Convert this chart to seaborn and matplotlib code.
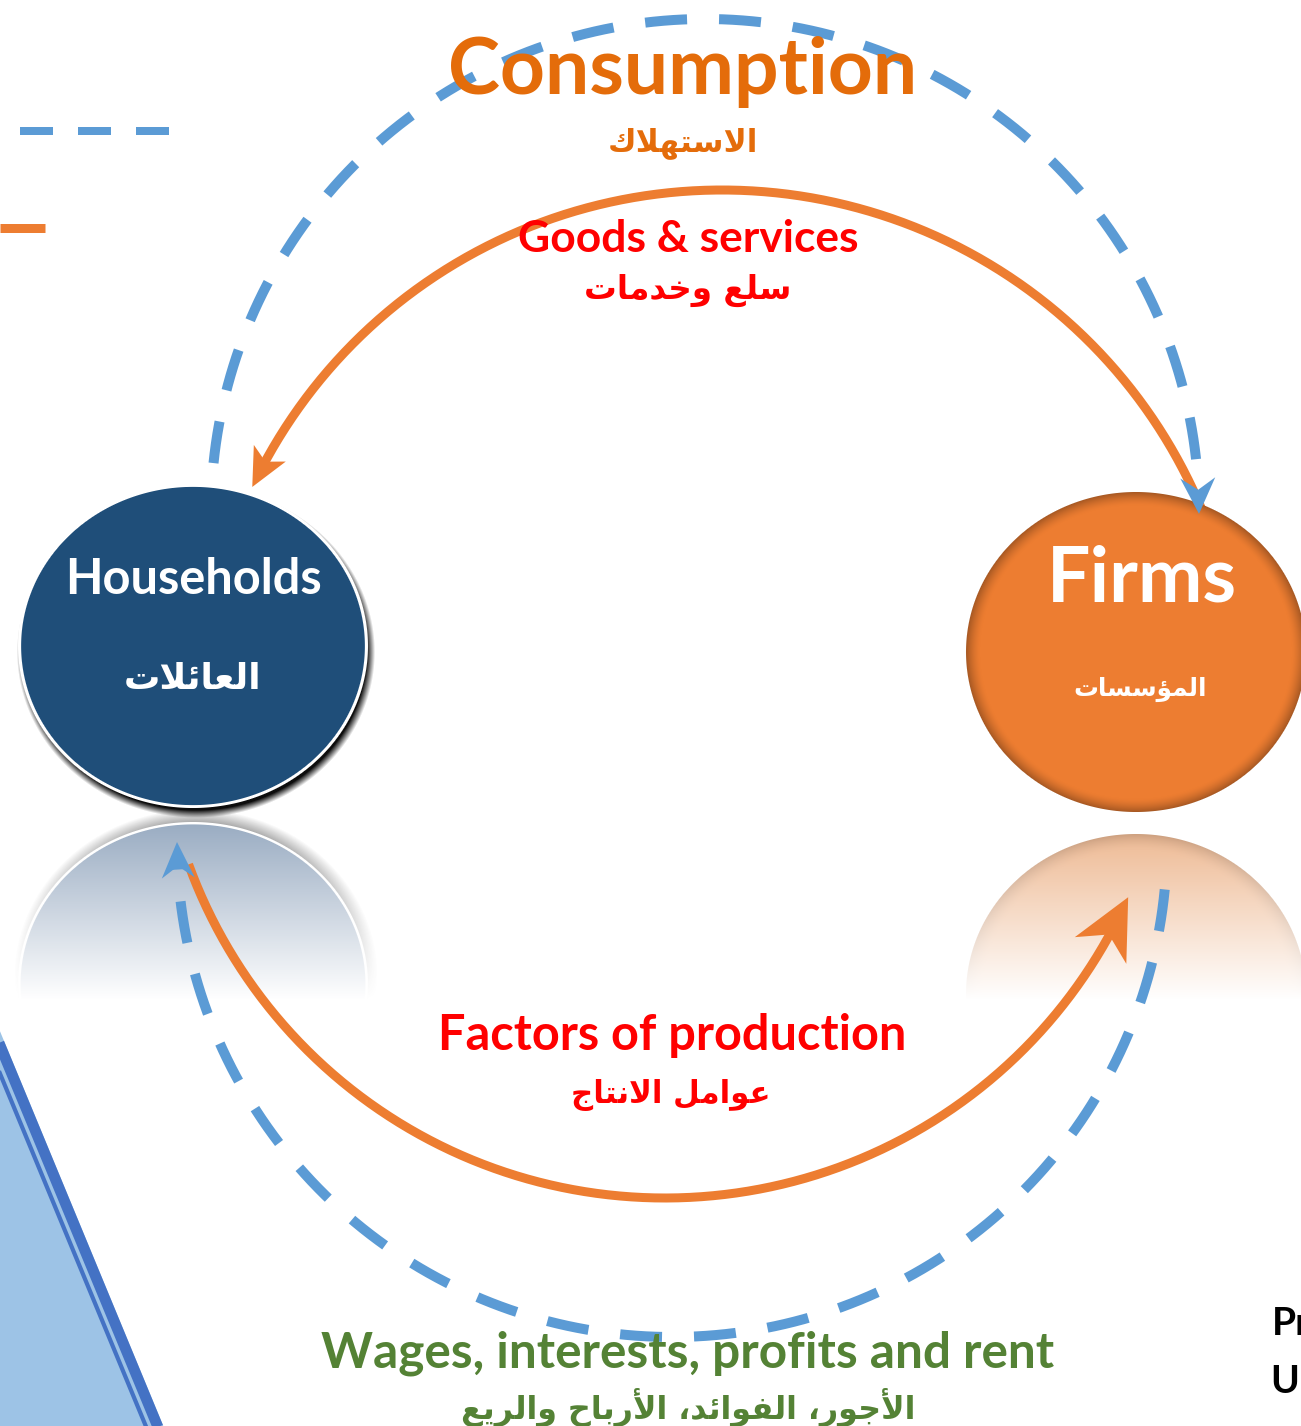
import numpy as np
import matplotlib
matplotlib.use('Agg')
import matplotlib.pyplot as plt
import seaborn as sns

# ---- texts ----
node_names = ['Households', 'Firms']
node_names_ar = ['العائلات', 'المؤسسات']
flow_names = ['Consumption', 'Goods & services', 'Factors of production',
              'Wages, interests, profits and rent']
flow_names_ar = ['الاستهلاك', 'سلع وخدمات', 'عوامل الانتاج',
                 'الأجور، الفوائد، الأرباح والريع']
corner_text = ['Pr', 'U']

# ---- layout (pixel units, y pointing down) ----
W, H = 1301, 1426
BLUE = '#5B9BD5'
ORANGE = '#ED7D31'
PX2PT = 72 / 100
AR_STRETCH = 1.15  # DejaVu arabic is wide and short, let it run a bit wider

node_x = [193, 1136]
node_y = [646, 652]
node_rx = [175, 170]
node_ry = [162, 160]
node_text_x = [193, 1142]
node_title_y = [594, 602]
node_title_w = [257, 190]
node_ar_x = [193, 1140]
node_ar_y = [689, 696]
node_ar_w = [120, 116]

flow_x = [683, 688, 672, 688]
flow_y = [94, 252, 1050, 1368]
flow_w = [470, 340, 468, 733]
flow_colors = ['#E46C0A', '#FF0000', '#FF0000', '#548235']
flow_ar_x = [683, 688, 671, 688]
flow_ar_y = [151, 299, 1103, 1419]
flow_ar_w = [130, 180, 173, 395]

# arcs: centre, radius, start/end angle (deg), colour, width px, dashed, head (length, width, notch)
arcs = [
    dict(c=(722, 710), r=520, t=(21, 154.6), color=ORANGE, w=9, dashed=False, head=(38, 36, 0.75)),
    dict(c=(665, 691), r=507, t=(-160, -24), color=ORANGE, w=9, dashed=False, head=(60, 58, 0.7)),
    dict(c=(705, 513), r=494, t=(174.2, -0.1), color=BLUE, w=10, dashed=True, head=(36, 35, 0.67)),
    dict(c=(672, 842), r=495, t=(-5.5, -180), color=BLUE, w=10, dashed=True, head=(36, 33, 0.67)),
]

# ---- arabic shaping (matplotlib has no text shaper) ----
AR_ISO = {'ا': 0xFE8D, 'أ': 0xFE83, 'ؤ': 0xFE85, 'ئ': 0xFE89, 'ب': 0xFE8F, 'ت': 0xFE95,
          'ج': 0xFE9D, 'ح': 0xFEA1, 'خ': 0xFEA5, 'د': 0xFEA9, 'ر': 0xFEAD, 'س': 0xFEB1,
          'ع': 0xFEC9, 'ف': 0xFED1, 'ك': 0xFED9, 'ل': 0xFEDD, 'م': 0xFEE1, 'ن': 0xFEE5,
          'ه': 0xFEE9, 'و': 0xFEED, 'ي': 0xFEF1}
AR_DUAL = set('ئبتجحخسعفكلمنهي')
LAM_ALEF = {'ا': 0xFEFB, 'أ': 0xFEF7}


def shape_arabic(s):
    tokens = []
    i = 0
    while i < len(s):
        if s[i] == 'ل' and i + 1 < len(s) and s[i + 1] in LAM_ALEF:
            tokens.append(('la', s[i + 1]))
            i += 2
        else:
            tokens.append(('ch', s[i]))
            i += 1
    out = []
    for k, (kind, c) in enumerate(tokens):
        prev = tokens[k - 1] if k > 0 else None
        nxt = tokens[k + 1] if k + 1 < len(tokens) else None
        jp = prev is not None and prev[0] == 'ch' and prev[1] in AR_DUAL
        if kind == 'la':
            out.append(chr(LAM_ALEF[c] + (1 if jp else 0)))
            continue
        if c not in AR_ISO:
            out.append(c)
            continue
        jn = c in AR_DUAL and nxt is not None and (nxt[0] == 'la' or nxt[1] in AR_ISO)
        form = {(False, False): 0, (True, False): 1, (False, True): 2, (True, True): 3}[(jp, jn)]
        out.append(chr(AR_ISO[c] + form))
    return ''.join(reversed(out))


# ---- soft ellipse bitmaps (circles, shadows, reflections) ----
def ellipse_img(cx, cy, rx, ry, box, fill, ring_w=0, shadow=None, fade=None,
                edge_dark=0.0, edge_w=10, zorder=2):
    x0, x1, y0, y1 = box
    X, Y = np.meshgrid(np.arange(x0, x1) + 0.5, np.arange(y0, y1) + 0.5)
    ravg = (rx + ry) / 2

    def dist(ox=0, oy=0):
        return (np.sqrt(((X - cx - ox) / rx) ** 2 + ((Y - cy - oy) / ry) ** 2) - 1) * ravg

    rgb = np.ones(X.shape + (3,))
    a = np.zeros(X.shape)

    def over(col, alpha):
        nonlocal rgb, a
        col = np.broadcast_to(np.asarray(col, float), rgb.shape)
        oa = alpha + a * (1 - alpha)
        rgb = (col * alpha[..., None] + rgb * (a * (1 - alpha))[..., None]) / np.maximum(oa, 1e-6)[..., None]
        a = oa

    if shadow is not None:
        col, ox, oy, blur, strength = shadow
        over(col, strength * np.clip(0.5 - dist(ox, oy) / blur, 0, 1))
    d = dist()
    if ring_w:
        over((1, 1, 1), np.clip(0.5 - d, 0, 1))
    dd = d + ring_w
    k = np.clip((dd + edge_w) / edge_w, 0, 1) ** 1.5
    col = np.asarray(fill, float)[None, None, :] * (1 - edge_dark * k)[..., None]
    over(col, np.clip(0.5 - dd, 0, 1))
    if fade is not None:
        f = np.clip((Y - fade[0]) / (fade[1] - fade[0]), 0, 1)
        a = a * (1 - f)
    img = np.dstack([rgb, a])
    ax.imshow(img, extent=(x0, x1, y1, y0), origin='upper', aspect='auto',
              interpolation='bilinear', zorder=zorder)


def arc_points(c, r, t0, t1, n=300):
    t = np.radians(np.linspace(t0, t1, n))
    return c[0] + r * np.cos(t), c[1] - r * np.sin(t)


sns.set_theme(style='white')
plt.rcParams['font.family'] = ['Lato', 'DejaVu Sans']

fig = plt.figure(figsize=(W / 100, H / 100), dpi=100)
ax = fig.add_axes([0, 0, 1, 1])
ax.set_xlim(0, W)
ax.set_ylim(H, 0)
ax.axis('off')

# ---- decorations at the left edge ----
sns.lineplot(x=[20, 169], y=[131, 131], ax=ax, color=BLUE, linewidth=8 * PX2PT,
             linestyle=(0, (33 / 8, 25 / 8)), zorder=1)
sns.lineplot(x=[0, 45], y=[228, 228], ax=ax, color=ORANGE, linewidth=9 * PX2PT,
             solid_capstyle='butt', zorder=1)

slope = 163 / 394
edge_x = lambda y, xb: xb - (1426 - y) * slope
ax.fill([-20, edge_x(980, 163.3), edge_x(1440, 163.3), -20], [980, 980, 1440, 1440],
        color='#9DC3E6', lw=0, zorder=1)
ax.plot([edge_x(980, 157.5), edge_x(1440, 157.5)], [980, 1440], color='#4472C4',
        lw=10.8 * PX2PT, solid_capstyle='butt', zorder=1)
ax.plot([edge_x(980, 145.8), edge_x(1440, 145.8)], [980, 1440], color='#4472C4',
        lw=4.2 * PX2PT, solid_capstyle='butt', zorder=1)

# ---- reflections ----
ellipse_img(node_x[0], 822 + node_ry[0], node_rx[0], node_ry[0], (0, 400, 790, 1010),
            (150 / 255, 169 / 255, 192 / 255), ring_w=2.5,
            shadow=((0.3, 0.3, 0.3), 3, -6, 14, 0.5), fade=(818, 1000), zorder=2)
ellipse_img(node_x[1], 834 + node_ry[1], node_rx[1], node_ry[1], (930, W, 800, 1010),
            (238 / 255, 186 / 255, 148 / 255), edge_dark=0.14, edge_w=16,
            fade=(834, 1000), zorder=2)

# ---- flows ----
for a in arcs:
    L, Wd, notch = a['head']
    t0, t1 = a['t']
    sgn = np.sign(t1 - t0)
    t_end = t1 - sgn * np.degrees(L * (notch - 0.1) / a['r'])
    xs, ys = arc_points(a['c'], a['r'], t0, t_end)
    ls = (0, (4.2, 3.2)) if a['dashed'] else '-'
    sns.lineplot(x=xs, y=ys, sort=False, estimator=None, ax=ax, color=a['color'],
                 linewidth=a['w'] * PX2PT, linestyle=ls, solid_capstyle='butt', zorder=3)
    tip = np.array(arc_points(a['c'], a['r'], t1, t1, 1)).ravel()
    tb = t1 - sgn * np.degrees(L / a['r'])
    tail = np.array(arc_points(a['c'], a['r'], tb, tb, 1)).ravel()
    d = (tip - tail) / np.linalg.norm(tip - tail)
    nrm = np.array([-d[1], d[0]])
    base = tip - d * L
    pts = np.array([tip, base + nrm * Wd / 2, tip - d * L * notch, base - nrm * Wd / 2])
    ax.fill(pts[:, 0], pts[:, 1], color=a['color'], lw=0, zorder=5)

# ---- nodes ----
ellipse_img(node_x[0], node_y[0], node_rx[0], node_ry[0], (0, 400, 460, 840),
            (31 / 255, 78 / 255, 121 / 255), ring_w=3,
            shadow=((0, 0, 0), 3, 6, 8, 0.95), zorder=4)
ellipse_img(node_x[1], node_y[1], node_rx[1], node_ry[1], (930, W, 470, 830),
            (237 / 255, 125 / 255, 49 / 255), edge_dark=0.3, edge_w=14, zorder=4)

# ---- texts ----
renderer = fig.canvas.get_renderer()


def fitted_text(x, y, s, width, **kw):
    t = ax.text(x, y, s, ha='center', va='baseline', fontsize=40, zorder=6, **kw)
    bw = t.get_window_extent(renderer=renderer).width
    t.set_fontsize(40 * width / bw)
    return t


for i, name in enumerate(node_names):
    fitted_text(node_text_x[i], node_title_y[i], name, node_title_w[i], color='white',
                fontweight='bold')
    fitted_text(node_ar_x[i], node_ar_y[i], shape_arabic(node_names_ar[i]),
                node_ar_w[i] * AR_STRETCH, color='white', fontweight='bold',
                family=['DejaVu Sans'])

for i, name in enumerate(flow_names):
    fitted_text(flow_x[i], flow_y[i], name, flow_w[i], color=flow_colors[i], fontweight='bold')
    fitted_text(flow_ar_x[i], flow_ar_y[i], shape_arabic(flow_names_ar[i]),
                flow_ar_w[i] * AR_STRETCH, color=flow_colors[i], fontweight='bold',
                family=['DejaVu Sans'])

for txt, x, y in zip(corner_text, [1272, 1270], [1335, 1393]):
    ax.text(x, y, txt, ha='left', va='baseline', fontsize=28, fontweight='bold',
            color='black', zorder=6)

ax.set_xlim(0, W)
ax.set_ylim(H, 0)
fig.savefig('out.png', dpi=100)
